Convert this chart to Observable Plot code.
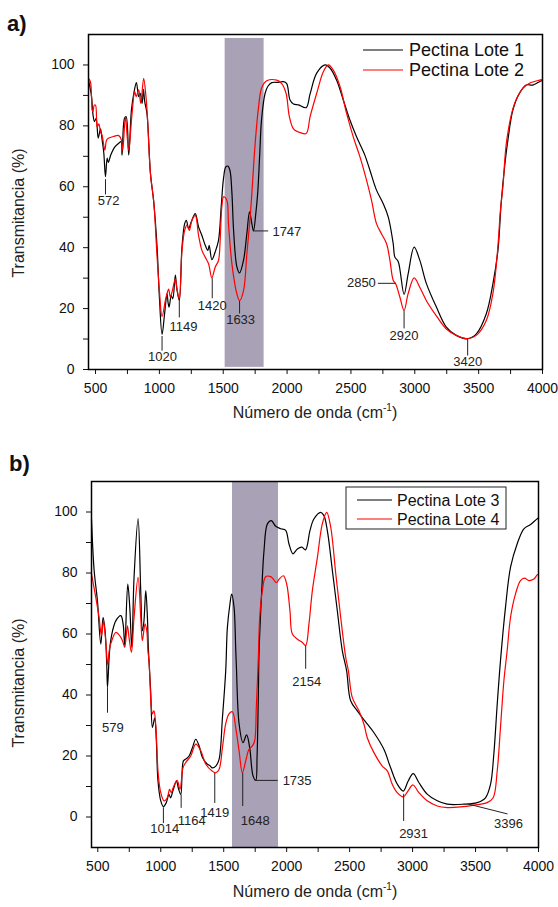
<!DOCTYPE html>
<html><head><meta charset="utf-8">
<script src="https://cdn.jsdelivr.net/npm/d3@7"></script>
<script src="https://cdn.jsdelivr.net/npm/@observablehq/plot@0.6"></script>
<style>
body{margin:0;background:#fff;font-family:"Liberation Sans",Arial,sans-serif;}
#wrap{position:relative;width:558px;height:907px;overflow:hidden;background:#fff;}
.panel{position:absolute;left:0;}
.plabel{position:absolute;font-weight:bold;font-size:22px;line-height:22px;color:#111;}
.ylab{position:absolute;font-size:16px;white-space:nowrap;color:#222;transform:translate(-50%,-50%) rotate(-90deg);}
.xlab{position:absolute;font-size:16px;white-space:nowrap;color:#222;transform:translate(-50%,-50%);}
.xlab sup{font-size:10px;vertical-align:7px;line-height:0;}
#overlay{position:absolute;left:0;top:0;pointer-events:none;}
</style></head>
<body>
<div id="wrap"></div>
<script>
// ---------- DATA (wavenumber cm-1, transmittance %) ----------
const lote1 = [[445,95],[469,89.6],[479,84],[492,81.4],[505,82.5],[521,76],[539,79],[552,75.3],[565,71],[578,63.3],[591,69.4],[600,68],[620,70.5],[650,73],[682,74.3],[700,74.8],[708,70.4],[727,82.5],[740,83],[760,70.4],[781,85.2],[800,90.7],[820,94.2],[838,89.6],[850,90.7],[865,87.4],[875,92],[885,88],[903,84],[930,64.4],[956,55],[982,40.2],[1000,23.8],[1021,11.5],[1041,18.4],[1060,24.9],[1068,22],[1076,20.5],[1093,24.3],[1105,23.2],[1125,31],[1135,27],[1156,22.7],[1177,40.2],[1198,47.9],[1211,49],[1229,46.3],[1250,48.5],[1281,51.2],[1307,46.8],[1333,44],[1359,40.8],[1380,39.1],[1390,40.8],[1411,36.1],[1437,38.6],[1463,42.4],[1484,53.4],[1503,63],[1520,66.5],[1536,66.8],[1552,65.5],[1568,58],[1581,45.7],[1607,33.7],[1628,31.7],[1659,35.9],[1685,44.6],[1706,51.8],[1724,47.9],[1737,45.5],[1755,51.2],[1770,58],[1785,70],[1800,82],[1828,90.7],[1850,93],[1880,94.2],[1930,94.3],[1971,94.5],[1997,93.9],[2023,88.5],[2050,87.2],[2090,86.9],[2149,86],[2180,90.5],[2232,97.3],[2297,100],[2336,99],[2388,95],[2440,88.5],[2492,81.9],[2544,76.4],[2609,70.4],[2648,65.5],[2700,58.9],[2752,54.5],[2792,50.1],[2831,41.3],[2844,36.9],[2870,35.5],[2916,24.7],[2948,31.4],[2995,40.2],[3039,35.9],[3091,28.2],[3169,20.5],[3247,13.9],[3325,11.2],[3411,10.1],[3482,11.7],[3560,18.3],[3612,28.2],[3651,39.1],[3677,55],[3703,66.5],[3729,75.3],[3768,85.2],[3820,90.7],[3872,93.4],[3924,93.4],[3976,94.5],[4000,95]];
const lote2 = [[445,95.6],[460,94.5],[474,85.2],[480,84.6],[490,86.8],[500,86.8],[513,79.6],[526,80.7],[539,78],[552,76.8],[573,72],[586,75.3],[600,75.9],[640,76.5],[682,76.8],[703,75.3],[713,72],[734,83],[749,75.9],[760,72],[786,84],[807,91.3],[818,89.6],[838,91.8],[854,87.4],[877,95.6],[895,89.6],[905,84],[930,64.4],[956,55],[982,37],[1000,26],[1021,17.4],[1047,22.7],[1060,25],[1073,26.4],[1085,23.8],[1102,25.9],[1125,29.8],[1140,25.9],[1156,23.2],[1177,39],[1198,45.7],[1216,47.4],[1234,45.7],[1255,49],[1281,50.6],[1307,44],[1333,39.1],[1359,36.9],[1385,34.7],[1411,30.1],[1437,33.6],[1463,35.8],[1476,42.4],[1489,53.4],[1503,56.7],[1528,55.6],[1541,47.9],[1568,34.7],[1607,24.8],[1628,22.6],[1659,25.9],[1685,38],[1711,50.1],[1724,57.8],[1750,74.2],[1776,86],[1802,92.6],[1841,94.8],[1919,95],[1958,93.9],[1992,90.7],[2018,83],[2050,79],[2089,78],[2149,77.5],[2180,83],[2232,90.7],[2284,97.8],[2323,100],[2362,98.3],[2414,93],[2466,84.1],[2518,76.4],[2570,69.9],[2622,62.2],[2661,55.6],[2700,47.9],[2739,44.6],[2779,41.3],[2805,35.9],[2831,29.3],[2852,28],[2883,23.8],[2916,19.4],[2948,24.9],[2995,30.1],[3039,27],[3091,22.6],[3169,17.6],[3247,13.3],[3325,11.2],[3411,10.1],[3482,11.2],[3560,16.1],[3612,25],[3650,40],[3670,52],[3690,60],[3720,75.3],[3781,87.3],[3846,92.3],[3898,94],[3976,95],[4000,95.2]];
const lote3 = [[450,97.5],[471,80.8],[497,71],[524,56.7],[542,65.5],[558,61],[571,50.1],[577,42.5],[591,53],[600,57],[617,61],[643,64.3],[683,66],[701,63.3],[714,56.2],[738,76.4],[754,68.8],[770,55.6],[788,78.6],[820,97.8],[841,74.2],[854,61],[866,64],[881,74.2],[894,65.5],[902,55],[920,41.2],[934,29.4],[952,32.4],[965,25],[978,11.8],[1000,5.3],[1021,3.4],[1044,4.7],[1065,7.4],[1078,6.3],[1096,8.5],[1125,11.8],[1139,9.6],[1159,7.4],[1180,18.4],[1199,19],[1225,20],[1252,22.8],[1278,25.5],[1305,23.3],[1331,19.5],[1371,17.3],[1389,16.9],[1410,16.1],[1437,16.7],[1463,18.9],[1490,32.6],[1516,48],[1529,62],[1550,70],[1563,73.1],[1582,68.8],[1595,55.6],[1601,49],[1622,30.6],[1653,24.4],[1682,26.9],[1706,22.8],[1733,13.5],[1755,12],[1765,20],[1775,40],[1781,54.5],[1802,74.2],[1820,87.3],[1847,96.1],[1878,97.2],[1913,95.3],[1953,94.5],[1992,94],[2018,89.6],[2050,86.3],[2085,87.9],[2120,88.5],[2150,87.6],[2185,93.9],[2216,97.7],[2270,99.9],[2296,98.8],[2323,93.9],[2363,80.8],[2402,67.7],[2442,54.5],[2476,48],[2508,38.1],[2561,34.8],[2621,31.5],[2692,27.7],[2772,22.2],[2825,16.2],[2878,10.8],[2926,8.5],[2965,11.8],[3005,14.2],[3050,11.3],[3116,7.5],[3196,5.3],[3275,4.2],[3407,4.2],[3513,4.7],[3579,6.3],[3619,10.7],[3645,20.5],[3672,36.9],[3698,51.2],[3738,68.8],[3778,81.9],[3831,89.6],[3884,94.5],[3937,95.9],[3990,97.8],[4000,98]];
const lote4 = [[450,79.7],[484,72],[510,65.5],[529,59.4],[545,64.3],[558,60],[568,55],[577,50],[595,55.6],[611,57.8],[643,60.5],[683,58.9],[701,57.2],[714,55.6],[735,62.7],[748,58.9],[767,54],[788,65.5],[820,78.6],[841,65.5],[854,57.8],[875,63.3],[889,61],[898,54.5],[907,51.2],[925,35.9],[934,33.8],[946,34.8],[960,30.4],[980,14],[1000,8],[1026,5.3],[1052,6.3],[1070,9.1],[1083,8],[1104,10.2],[1130,12],[1153,9.1],[1177,16.2],[1199,17.9],[1238,20],[1278,23.9],[1318,21.7],[1358,17.3],[1410,15],[1437,14.5],[1463,15.6],[1490,22.8],[1516,30.6],[1542,33.8],[1569,34.5],[1595,29.4],[1622,21.7],[1648,14.5],[1675,18.4],[1701,22.2],[1728,23.3],[1746,25],[1759,35.9],[1775,52.3],[1786,65.5],[1807,74.2],[1833,78.8],[1873,78.8],[1894,78],[1918,76.8],[1940,78],[1974,79.1],[2000,76.4],[2026,67.7],[2045,60],[2085,58.3],[2125,57.2],[2151,56.2],[2177,63.3],[2204,74.2],[2244,85.1],[2283,96.1],[2318,99.9],[2350,95],[2390,79.7],[2429,65.5],[2469,52.3],[2490,48],[2521,39.2],[2574,34.8],[2614,30.4],[2640,26],[2693,21.1],[2759,16.7],[2799,15.1],[2839,10.7],[2878,8],[2926,6.6],[2963,8.5],[3003,10.5],[3050,8],[3116,5.3],[3196,3.6],[3275,3.1],[3381,3.3],[3487,3.9],[3592,4.7],[3640,6.3],[3672,15.1],[3698,29.3],[3725,44.6],[3751,54.5],[3778,65.5],[3817,73.1],[3857,77.5],[3889,78.3],[3924,77.5],[3963,78],[3990,79.4],[4000,79.5]];

const namesA = ["Pectina Lote 1", "Pectina Lote 2"];
const namesB = ["Pectina Lote 3", "Pectina Lote 4"];
const seriesColors = ["#000000", "#ff0000"];

const bandA = [1515, 1820];
const bandB = [1570, 1935];

const xTicks = [500, 1000, 1500, 2000, 2500, 3000, 3500, 4000];
const xMinor = [750, 1250, 1750, 2250, 2750, 3250, 3750];
const yTicks = [0, 20, 40, 60, 80, 100];
const yMinor = [10, 30, 50, 70, 90];

// peak annotations: leader from (x1,y1) to (x2,y2), label at (tx,ty)
const notesA = [
  {label:"572", x1:578, y1:62.5, x2:578, y2:57.5, tx:602, ty:55.5, anchor:"middle"},
  {label:"1020", x1:1021, y1:11, x2:1021, y2:6.2, tx:1024, ty:4.3, anchor:"middle"},
  {label:"1149", x1:1156, y1:23.5, x2:1156, y2:17.1, tx:1188, ty:14.1, anchor:"middle"},
  {label:"1420", x1:1414, y1:30, x2:1414, y2:23.4, tx:1414, ty:21, anchor:"middle"},
  {label:"1633", x1:1628, y1:22.5, x2:1628, y2:18.4, tx:1636, ty:16.4, anchor:"middle"},
  {label:"1747", x1:1737, y1:45.5, x2:1852, y2:45.5, tx:1885, ty:45.3, anchor:"start"},
  {label:"2850", x1:2852, y1:28.3, x2:2711, y2:28.3, tx:2695, ty:28.3, anchor:"end"},
  {label:"2920", x1:2916, y1:19.4, x2:2916, y2:13.5, tx:2916, ty:10.9, anchor:"middle"},
  {label:"3420", x1:3414, y1:10.1, x2:3414, y2:4.6, tx:3414, ty:2.6, anchor:"middle"}
];
const notesB = [
  {label:"579", x1:577, y1:42.5, x2:577, y2:34.2, tx:619, ty:29.2, anchor:"middle"},
  {label:"1014", x1:1021, y1:3.2, x2:1021, y2:-2, tx:1032, ty:-3.9, anchor:"middle"},
  {label:"1164", x1:1162, y1:7.4, x2:1162, y2:3, tx:1246, ty:-1.3, anchor:"middle"},
  {label:"1419", x1:1429, y1:14.5, x2:1429, y2:4.6, tx:1429, ty:1.3, anchor:"middle"},
  {label:"1648", x1:1651, y1:14.5, x2:1651, y2:3.6, tx:1750, ty:-1.3, anchor:"middle"},
  {label:"1735", x1:1750, y1:12, x2:1929, y2:12, tx:1968, ty:11.7, anchor:"start"},
  {label:"2154", x1:2151, y1:56.2, x2:2151, y2:48.6, tx:2159, ty:44.3, anchor:"middle"},
  {label:"2931", x1:2929, y1:7.6, x2:2929, y2:-1.3, tx:3008, ty:-5.6, anchor:"middle"},
  {label:"3396", x1:3437, y1:4.3, x2:3754, y2:1, tx:3762, ty:-2.3, anchor:"middle"}
];

// ---------- DRAW ----------
const FONT = "'Liberation Sans', Arial, sans-serif";
const bandFill = "#a9a1b6";
const plain = d => String(d);

function panel(o) {
  const textMarks = ["start","middle","end"].map(a =>
    Plot.text(o.notes.filter(d => d.anchor === a), {
      x: "tx", y: "ty", text: "label", textAnchor: a,
      fontSize: 13, fill: "#222"
    }));
  return Plot.plot({
    width: 558, height: o.height,
    marginTop: o.mt, marginBottom: o.mb, marginLeft: o.ml, marginRight: o.mr,
    style: {fontFamily: FONT, fontSize: "14px", color: "#111", background: "transparent", overflow: "visible"},
    x: {domain: o.xDomain},
    y: {domain: o.yDomain},
    marks: [
      Plot.rect([o.band], {x1: d => d[0], x2: d => d[1], y1: o.bandY[0], y2: o.bandY[1], fill: bandFill}),
      Plot.line(o.s1, {x: d => d[0], y: d => d[1], stroke: seriesColors[0], strokeWidth: 1.2, curve: "catmull-rom"}),
      Plot.line(o.s2, {x: d => d[0], y: d => d[1], stroke: seriesColors[1], strokeWidth: 1.2, curve: "catmull-rom"}),
      Plot.link(o.notes, {x1: "x1", y1: "y1", x2: "x2", y2: "y2", stroke: "#222", strokeWidth: 1}),
      ...textMarks,
      Plot.axisX({ticks: xTicks, tickSize: 5, tickPadding: 9, label: null, fontSize: 14, tickFormat: plain}),
      Plot.axisX({ticks: xMinor, tickSize: 5, tickFormat: () => "", label: null}),
      Plot.axisY({ticks: yTicks, tickSize: 5, tickPadding: 9, label: null, fontSize: 14, tickFormat: plain}),
      Plot.axisY({ticks: yMinor, tickSize: 5, tickFormat: () => "", label: null}),
      Plot.frame({stroke: "#000", strokeWidth: 1.5})
    ]
  });
}

const wrap = document.getElementById("wrap");

const pa = panel({s1: lote1, s2: lote2, notes: notesA, band: bandA, bandY: [0.7, 108.7],
  xDomain: [445, 4000], yDomain: [0, 110], height: 421, mt: 34, mb: 52, ml: 88, mr: 16});
pa.classList.add("panel"); pa.style.top = "0px";
wrap.appendChild(pa);

const pb = panel({s1: lote3, s2: lote4, notes: notesB, band: bandB, bandY: [-10, 110],
  xDomain: [450, 4000], yDomain: [-10, 110], height: 462, mt: 41, mb: 55, ml: 91, mr: 20});
pb.classList.add("panel"); pb.style.top = "440px";
wrap.appendChild(pb);

// titles / axis labels
function addDiv(cls, html, left, top) {
  const d = document.createElement("div");
  d.className = cls; d.innerHTML = html;
  d.style.left = left + "px"; d.style.top = top + "px";
  wrap.appendChild(d);
}
addDiv("plabel", "a)", 7, 13);
addDiv("plabel", "b)", 9, 453);
addDiv("ylab", "Transmitancia (%)", 19, 213);
addDiv("ylab", "Transmitancia (%)", 19, 683);
addDiv("xlab", "Número de onda (cm<sup>-1</sup>)", 315, 413);
addDiv("xlab", "Número de onda (cm<sup>-1</sup>)", 315, 892);

// legends
const NS = "http://www.w3.org/2000/svg";
const ov = document.createElementNS(NS, "svg");
ov.setAttribute("id", "overlay"); ov.setAttribute("width", 558); ov.setAttribute("height", 907);
ov.style.fontFamily = FONT;
wrap.appendChild(ov);
function el(tag, attrs, text) {
  const e = document.createElementNS(NS, tag);
  for (const k in attrs) e.setAttribute(k, attrs[k]);
  if (text) e.textContent = text;
  ov.appendChild(e); return e;
}
function legend(names, x0, y0, lineLen, gap, rowH, fs, box) {
  if (box) el("rect", {x: box[0], y: box[1], width: box[2], height: box[3], fill: "#fff", stroke: "#222", "stroke-width": 1});
  names.forEach((n, i) => {
    const y = y0 + i * rowH;
    el("line", {x1: x0, x2: x0 + lineLen, y1: y, y2: y, stroke: seriesColors[i], "stroke-width": 1.2});
    el("text", {x: x0 + lineLen + gap, y: y, dy: "0.35em", "font-size": fs, fill: "#111"}, n);
  });
}
legend(namesA, 363, 50, 40, 6, 20, 18, null);
legend(namesB, 357, 500, 35, 5, 19, 16, [346, 487, 160, 42]);
</script>
</body></html>
